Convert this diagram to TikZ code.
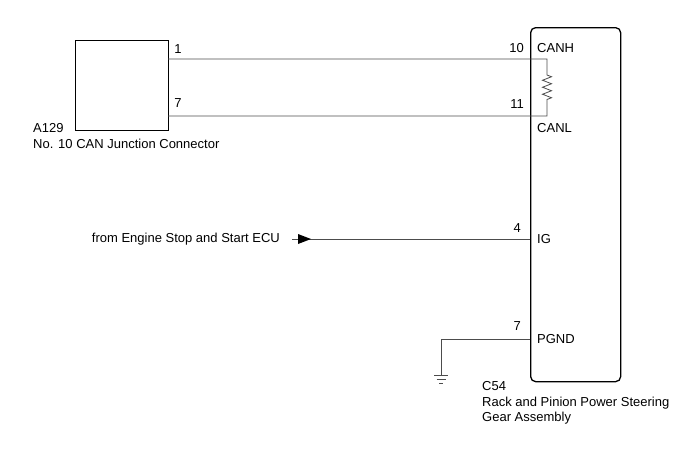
\documentclass[tikz,border=0pt]{standalone}
\usepackage{fontspec}
\setmainfont{Liberation Sans}
\usetikzlibrary{arrows.meta,decorations.pathmorphing}
\tikzset{wire/.style={draw=black!70,line width=0.8pt},
         pin/.style={inner sep=1pt,font=\fontsize{13}{15}\selectfont},
         lbl/.style={inner sep=1pt,anchor=west,align=left,font=\fontsize{13}{15.5}\selectfont}}

\begin{document}
\begin{tikzpicture}[x=1pt,y=-1pt]
                   \useasboundingbox (0,0) rectangle (688,463);
                   \node[draw,line width=1.3pt,minimum width=93pt,minimum height=90pt,anchor=north west] (jc) at (75,40) {};
                   \node[draw,line width=1.3pt,rounded corners=5pt,minimum width=90pt,minimum height=354pt,anchor=north west] (ecu) at (530,27) {};
                   \coordinate (h1) at (168,59);  \coordinate (h2) at (530,59);
                   \coordinate (l1) at (168,116); \coordinate (l2) at (530,116);
                   \coordinate (r1) at (547,59);  \coordinate (r2) at (547,116);
                   \coordinate (src) at (292,239); \coordinate (ig) at (530,239);
                   \coordinate (pg) at (530,339); \coordinate (gc) at (441,339); \coordinate (gnd) at (441,375);
                   \path[wire]
                    (h1) -- (h2) -- (r1) -- ++(0,16) decorate[decoration={zigzag,amplitude=4.5pt,segment length=7pt}] {-- ++(0,25)} -- (r2) -- (l2) -- (l1);
                   \draw[wire] (src) -- (ig);
                   \fill (298,234) -- (311,239) -- (298,244) -- cycle;
                   \draw[wire] (pg) -- (gc) -- (gnd);
                   \draw[wire] (434,375) -- (448,375) (436.5,379) -- (445.5,379) (439,383) -- (443,383);
                   % pin numbers
                   \node[pin] (p1) at (178,49) {1};
                   \node[pin] (p7) at (178,103) {7};
                   \node[pin,anchor=east] (p10) at (525,48) {10};
                   \node[pin,anchor=east] (p11) at (525,104) {11};
                   \node[pin,anchor=east] (p4) at (522,228) {4};
                   \node[pin,anchor=east] (p7b) at (522,326) {7};
                   % terminal names
                   \node[lbl] (canh) at (536,48) {CANH};
                   \node[lbl] (canl) at (536,128) {CANL};
                   \node[lbl] (ign) at (536,239) {IG};
                   \node[lbl] (pgnd) at (536,339) {PGND};
                   \node[lbl] (a129) at (32,136) {A129\\No. 10 CAN Junction Connector};
                   \node[lbl,anchor=east] (from) at (281,239) {from Engine Stop and Start ECU};
                   \node[lbl] (c54) at (481,403) {C54\\Rack and Pinion Power Steering\\Gear Assembly};
                \end{tikzpicture}
\end{document}
